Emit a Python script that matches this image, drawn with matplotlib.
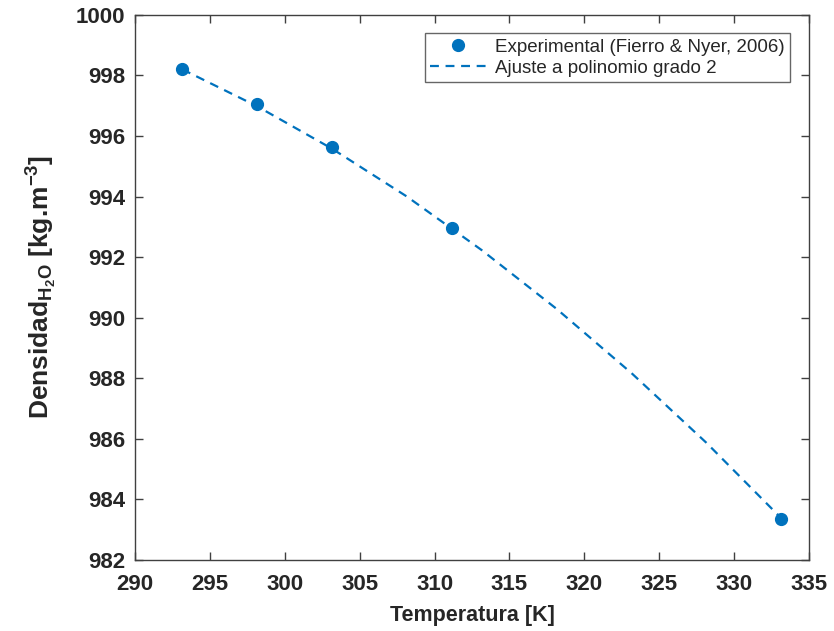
#!/usr/bin/env python3
"""Densidad del agua vs temperatura, con ajuste polinomico de grado 2."""
import matplotlib
matplotlib.use('Agg')
import matplotlib.pyplot as plt

# Datos experimentales (Fierro & Nyer, 2006)
temp_exp = [293.15, 298.15, 303.15, 311.15, 333.15]
dens_exp = [998.20, 997.04, 995.65, 992.96, 983.37]

# Curva de ajuste
temp_fit = [293.15, 298.15, 303.15, 308.15, 313.15, 318.15,
            323.15, 328.15, 333.15]
dens_fit = [998.20, 996.98, 995.58, 994.00, 992.23, 990.29,
            988.17, 985.87, 983.38]

x_ticks = list(range(290, 336, 5))
y_ticks = list(range(982, 1001, 2))

plt.rcParams['font.family'] = ['Liberation Sans', 'DejaVu Sans']
plt.rcParams['mathtext.fontset'] = 'custom'
plt.rcParams['mathtext.rm'] = 'Liberation Sans:bold'
plt.rcParams['mathtext.bf'] = 'Liberation Sans:bold'
plt.rcParams['mathtext.it'] = 'Liberation Sans:bold'

blue = '#0072BD'
axis_gray = '#404040'
text_col = '#262626'

fig = plt.figure(figsize=(8.34, 6.31), dpi=100)
ax = fig.add_axes([0.162, 0.1125, 0.808, 0.864])

ax.plot(temp_exp, dens_exp, 'o', color=blue, markersize=8.5,
        label='Experimental (Fierro & Nyer, 2006)', zorder=3)
ax.plot(temp_fit, dens_fit, '--', color=blue, linewidth=1.6,
        dashes=(4, 3), label='Ajuste a polinomio grado 2')

ax.set_xlim(290, 335)
ax.set_ylim(982, 1000)
ax.set_xticks(x_ticks)
ax.set_yticks(y_ticks)

ax.tick_params(direction='in', length=6, width=1, colors=axis_gray,
               top=True, right=True, labelsize=16)
ax.tick_params(axis='x', pad=10)
ax.tick_params(axis='y', pad=7)
for lbl in ax.get_xticklabels() + ax.get_yticklabels():
    lbl.set_fontweight('bold')
    lbl.set_color(text_col)
for sp in ax.spines.values():
    sp.set_color(axis_gray)
    sp.set_linewidth(1)

ax.set_xlabel('Temperatura [K]', fontsize=15.5, fontweight='bold',
              color=text_col, labelpad=7)
ax.set_ylabel(r'Densidad$_{\mathbf{H_2O}}$ [kg.m$^{\mathbf{-3}}$]',
              fontsize=19, fontweight='bold', color=text_col, labelpad=12)

leg = ax.legend(loc='upper right', fontsize=13.5, frameon=True,
                fancybox=False, borderpad=0.3, handlelength=3.0,
                handletextpad=0.45, labelspacing=0.22,
                borderaxespad=0, bbox_to_anchor=(0.972, 0.967))
leg.get_frame().set_edgecolor(axis_gray)
leg.get_frame().set_linewidth(1)
for t in leg.get_texts():
    t.set_color(text_col)

fig.savefig('out.png', dpi=100)
